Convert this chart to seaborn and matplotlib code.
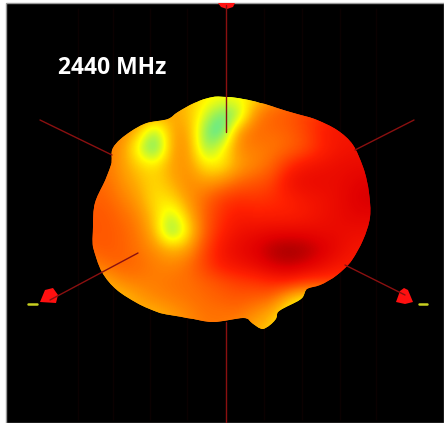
import numpy as np
import pandas as pd
import seaborn as sns
import matplotlib
matplotlib.use("Agg")
import matplotlib.pyplot as plt
from matplotlib.colors import LinearSegmentedColormap
from matplotlib.patches import PathPatch, Rectangle, Polygon
from matplotlib.path import Path

sns.set_theme(style="white")
plt.rcParams['font.family'] = ['Open Sans', 'DejaVu Sans']

label = "2440 MHz"

# gain level read by eye, rows top to bottom, cols left to right (0 = cyan, 1 = dark red)
gain = np.array([
 [.55,.55,.55,.55,.52,.48,.40,.33,.30,.30,.36,.50,.55,.60,.70,.75,.80,.80],
 [.55,.55,.55,.52,.48,.45,.42,.25,.08,.15,.52,.60,.62,.68,.72,.78,.80,.80],
 [.55,.55,.52,.42,.14,.46,.48,.12,.02,.50,.58,.58,.60,.66,.76,.80,.80,.80],
 [.55,.55,.50,.26,.02,.47,.51,.14,.28,.52,.54,.55,.58,.64,.74,.80,.82,.82],
 [.56,.56,.48,.38,.34,.47,.50,.33,.32,.46,.52,.58,.72,.80,.82,.84,.85,.85],
 [.58,.58,.50,.43,.36,.44,.52,.47,.50,.58,.62,.66,.82,.85,.85,.85,.88,.90],
 [.60,.60,.54,.47,.34,.36,.49,.58,.68,.72,.70,.72,.75,.80,.82,.85,.90,.92],
 [.62,.62,.58,.52,.38,.20,.42,.60,.72,.78,.76,.76,.76,.78,.82,.85,.88,.88],
 [.62,.62,.60,.55,.42,.08,.34,.60,.75,.82,.84,.86,.86,.86,.85,.85,.84,.84],
 [.60,.62,.60,.56,.50,.42,.46,.66,.80,.86,.90,.97,1.0,.98,.92,.86,.80,.80],
 [.52,.57,.60,.58,.54,.52,.57,.68,.78,.82,.86,.92,.95,.92,.86,.80,.78,.78],
 [.44,.44,.52,.54,.54,.56,.57,.60,.64,.68,.70,.74,.76,.70,.70,.70,.70,.70],
 [.40,.40,.40,.47,.52,.54,.56,.58,.60,.62,.60,.58,.40,.30,.30,.30,.30,.30],
 [.42,.42,.42,.42,.42,.47,.52,.56,.56,.56,.50,.42,.30,.30,.30,.30,.30,.30],
 [.42,.42,.42,.42,.42,.46,.50,.55,.55,.50,.42,.40,.30,.30,.30,.30,.30,.30],
])

# pattern silhouette, image pixels
outline_x = [227,243,260,277,297,317,337,353,363,369,370,363,352,337,320,307,302,290,278,275,263,252,243,213,187,160,137,117,102,93,93,95,103,111,113,130,147,168,178,197,213]
outline_y = [97,99,103,108,114,120,130,145,167,193,217,240,260,275,285,289,298,305,312,320,329,323,318,322,318,313,303,290,272,247,227,203,185,165,148,132,123,119,112,102,97]

# axes lines: start/end pixels
axis_x0 = [226, 226, 40, 414, 345, 50]
axis_y0 = [5, 322, 120, 120, 265, 300]
axis_x1 = [226, 226, 112, 355, 405, 138]
axis_y1 = [132, 423, 155, 150, 295, 253]

# faint dotted grid columns
grid_cols = [78, 113, 150, 187, 340, 376, 264, 302]

# small red cones and yellow ticks
cones = {
    "top": [(218, 3), (235, 3), (233, 7), (227, 9), (221, 7)],
    "left": [(40, 302), (45, 290), (53, 288), (58, 295), (56, 303)],
    "right": [(396, 302), (400, 291), (404, 288), (408, 290), (413, 302), (405, 304)],
}
tick_x = [(28, 37), (419, 427)]
tick_y = [304, 304]

fig = plt.figure(figsize=(4.44, 4.23), dpi=100, facecolor="white")

bg = fig.add_axes([0, 0, 1, 1], zorder=0)
bg.set_xlim(0, 444); bg.set_ylim(423, 0); bg.axis("off")
bg.add_patch(Rectangle((6, 3), 438, 420, facecolor="black", edgecolor="#999999", lw=1))

for c in grid_cols:
    sns.lineplot(x=[c, c], y=[8, 420], ax=bg, color="#3a0808", lw=1,
                 linestyle=(0, (1, 3)), legend=False)
bg.set_xlim(0, 444); bg.set_ylim(423, 0)

cmap = LinearSegmentedColormap.from_list("pattern", [
    (0.00, "#20e0d8"), (0.15, "#90f060"), (0.30, "#ffff00"),
    (0.45, "#ffa800"), (0.60, "#ff6000"), (0.75, "#ff2000"),
    (0.90, "#e00000"), (1.00, "#a00000")])

heat = fig.add_axes([80/444, (423-340)/423, 300/444, 250/423], zorder=1)
frame = pd.DataFrame(gain)
sns.heatmap(frame, ax=heat, cmap=cmap, vmin=0, vmax=1, cbar=False,
            xticklabels=False, yticklabels=False)
nrow, ncol = gain.shape
img = heat.imshow(gain, cmap=cmap, vmin=0, vmax=1, interpolation="bicubic",
                  extent=(0, ncol, nrow, 0), aspect="auto", zorder=3)
heat.set_xlim(0, ncol); heat.set_ylim(nrow, 0); heat.axis("off")

# closed Catmull-Rom curve through the silhouette points
pts = np.column_stack([outline_x, outline_y]).astype(float)
verts = [pts[0]]; codes = [Path.MOVETO]
n = len(pts)
for i in range(n):
    p0, p1, p2, p3 = pts[i-1], pts[i], pts[(i+1) % n], pts[(i+2) % n]
    verts += [p1 + (p2 - p0) / 6, p2 - (p3 - p1) / 6, p2]
    codes += [Path.CURVE4] * 3
clip = PathPatch(Path(verts, codes), transform=bg.transData, facecolor="none", edgecolor="none")
bg.add_patch(clip)
img.set_clip_path(clip)
heat.collections[0].set_clip_path(clip)

top = fig.add_axes([0, 0, 1, 1], zorder=2)
top.patch.set_alpha(0)
for x0, y0, x1, y1 in zip(axis_x0, axis_y0, axis_x1, axis_y1):
    sns.lineplot(x=[x0, x1], y=[y0, y1], ax=top, sort=False, estimator=None,
                 color="#8a1010", lw=1.0, legend=False)
for poly in cones.values():
    top.add_patch(Polygon(poly, closed=True, facecolor="#ff1010", edgecolor="none"))
for xs, y in zip(tick_x, tick_y):
    sns.lineplot(x=list(xs), y=[y, y], ax=top, color="#c8d020", lw=1.8, legend=False)
top.set_xlim(0, 444); top.set_ylim(423, 0); top.axis("off")
top.text(58, 68, label, color="white", fontsize=16.5, fontweight="bold",
         va="center", ha="left")

fig.savefig("out.png", dpi=100, facecolor="white")
